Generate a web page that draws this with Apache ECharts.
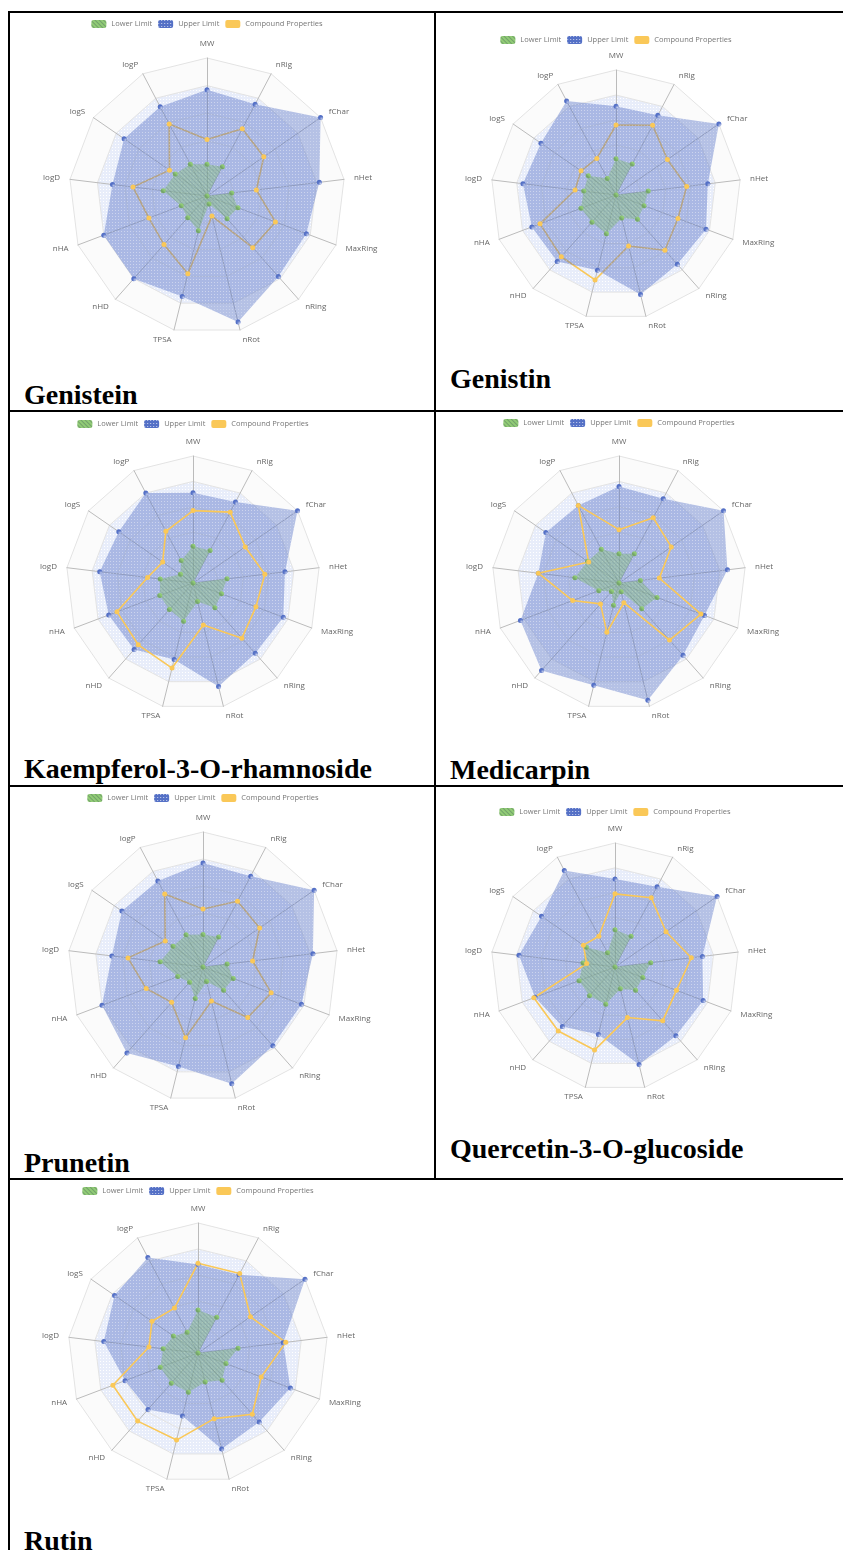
<!DOCTYPE html>
<html>
<head>
<meta charset="utf-8">
<script src="https://cdn.jsdelivr.net/npm/echarts@6/dist/echarts.min.js"></script>
<style>
  html, body { margin: 0; padding: 0; background: #fff; }
  #page { position: relative; width: 843px; height: 1550px; overflow: hidden; background: #fff; }
  .rule { position: absolute; background: #000; }
  .chart { position: absolute; width: 400px; height: 380px; }
  .name {
    position: absolute; white-space: nowrap; color: #000;
    font-family: 'Liberation Serif', serif; font-weight: bold;
    font-size: 28px; line-height: 28px;
  }
</style>
</head>
<body>
<div id="page"></div>
<script>
// Radar axes, clockwise from the top
const indicators = ['MW', 'nRig', 'fChar', 'nHet', 'MaxRing', 'nRing', 'nRot', 'TPSA', 'nHD', 'nHA', 'logD', 'logS', 'logP'];
const legendNames = ['Lower Limit', 'Upper Limit', 'Compound Properties'];
const compounds = ['Genistein', 'Genistin', 'Kaempferol-3-O-rhamnoside', 'Medicarpin', 'Prunetin', 'Quercetin-3-O-glucoside', 'Rutin'];

// Scaled physicochemical scores (0..1) in indicator order
const genisteinLower = [0.23, 0.24, 0.00, 0.18, 0.24, 0.22, 0.06, 0.26, 0.21, 0.20, 0.32, 0.28, 0.26];
const genisteinUpper = [0.77, 0.75, 1.00, 0.82, 0.77, 0.78, 0.94, 0.75, 0.80, 0.80, 0.69, 0.73, 0.73];
const genisteinProps = [0.41, 0.55, 0.50, 0.36, 0.53, 0.50, 0.15, 0.58, 0.47, 0.45, 0.54, 0.33, 0.59];

const genistinLower = [0.29, 0.28, 0.00, 0.26, 0.24, 0.26, 0.19, 0.32, 0.29, 0.30, 0.26, 0.27, 0.15];
const genistinUpper = [0.71, 0.72, 1.00, 0.74, 0.77, 0.74, 0.82, 0.62, 0.71, 0.72, 0.75, 0.73, 0.85];
const genistinProps = [0.56, 0.63, 0.50, 0.57, 0.53, 0.59, 0.42, 0.70, 0.66, 0.65, 0.33, 0.34, 0.33];

const kaempferolLower = [0.29, 0.29, 0.00, 0.27, 0.24, 0.26, 0.15, 0.31, 0.28, 0.28, 0.26, 0.12, 0.20];
const kaempferolUpper = [0.71, 0.72, 1.00, 0.73, 0.76, 0.74, 0.84, 0.62, 0.70, 0.71, 0.74, 0.71, 0.80];
const kaempferolProps = [0.57, 0.63, 0.50, 0.57, 0.53, 0.58, 0.34, 0.69, 0.65, 0.64, 0.36, 0.29, 0.46];

const medicarpinLower = [0.23, 0.26, 0.00, 0.17, 0.32, 0.27, 0.07, 0.18, 0.09, 0.17, 0.35, 0.30, 0.30];
const medicarpinUpper = [0.76, 0.75, 1.00, 0.86, 0.72, 0.76, 0.95, 0.83, 0.92, 0.83, 0.64, 0.70, 0.69];
const medicarpinProps = [0.42, 0.58, 0.50, 0.32, 0.69, 0.60, 0.16, 0.40, 0.22, 0.39, 0.64, 0.29, 0.69];

const prunetinLower = [0.24, 0.25, 0.00, 0.18, 0.24, 0.23, 0.11, 0.24, 0.15, 0.20, 0.32, 0.27, 0.27];
const prunetinUpper = [0.77, 0.76, 1.00, 0.82, 0.78, 0.78, 0.89, 0.76, 0.85, 0.80, 0.68, 0.73, 0.72];
const prunetinProps = [0.43, 0.55, 0.51, 0.37, 0.54, 0.50, 0.26, 0.54, 0.35, 0.45, 0.56, 0.34, 0.61];

const quercetinLower = [0.30, 0.28, 0.00, 0.29, 0.24, 0.25, 0.18, 0.31, 0.31, 0.31, 0.26, 0.28, 0.13];
const quercetinUpper = [0.71, 0.73, 1.00, 0.71, 0.76, 0.74, 0.81, 0.56, 0.64, 0.69, 0.78, 0.72, 0.88];
const quercetinProps = [0.59, 0.63, 0.50, 0.62, 0.53, 0.58, 0.42, 0.69, 0.69, 0.70, 0.23, 0.31, 0.28];

const rutinLower = [0.33, 0.31, 0.00, 0.31, 0.23, 0.28, 0.23, 0.31, 0.31, 0.31, 0.27, 0.23, 0.18];
const rutinUpper = [0.68, 0.68, 1.00, 0.66, 0.76, 0.71, 0.76, 0.50, 0.58, 0.60, 0.73, 0.78, 0.83];
const rutinProps = [0.69, 0.69, 0.49, 0.68, 0.52, 0.63, 0.52, 0.69, 0.70, 0.70, 0.38, 0.43, 0.39];

const lowerSets = [genisteinLower, genistinLower, kaempferolLower, medicarpinLower, prunetinLower, quercetinLower, rutinLower];
const upperSets = [genisteinUpper, genistinUpper, kaempferolUpper, medicarpinUpper, prunetinUpper, quercetinUpper, rutinUpper];
const propSets = [genisteinProps, genistinProps, kaempferolProps, medicarpinProps, prunetinProps, quercetinProps, rutinProps];

// Page layout: radar centre/radius, legend row, caption baseline, and whether
// the compound trace sits beneath the filled limit areas
const layout = [
  { cx: 207, cy: 196, r: 138, legendY: 19,   titleX: 24,  baseline: 404,  under: true },
  { cx: 616, cy: 195, r: 125, legendY: 35,   titleX: 450, baseline: 388,  under: true },
  { cx: 193, cy: 583, r: 127, legendY: 419,  titleX: 24,  baseline: 778,  under: false },
  { cx: 619, cy: 583, r: 127, legendY: 418,  titleX: 450, baseline: 779,  under: false },
  { cx: 203, cy: 967, r: 135, legendY: 793,  titleX: 24,  baseline: 1172, under: true },
  { cx: 615, cy: 967, r: 124, legendY: 807,  titleX: 450, baseline: 1158, under: false },
  { cx: 198, cy: 1353, r: 130, legendY: 1186, titleX: 24, baseline: 1550, under: false }
];

// Table rules: [left, top, width, height]
const rules = [
  [8, 11, 835, 2], [8, 410, 835, 2], [8, 785, 835, 2], [8, 1178, 835, 2],
  [8, 11, 2, 1539], [434, 11, 2, 1169]
];

// ECharts lays radar axes out counter-clockwise; keep MW on top and
// walk the rest backwards so the axes read clockwise.
const clockwise = arr => [arr[0]].concat(arr.slice(1).reverse());

const page = document.getElementById('page');
rules.forEach(([l, t, w, h]) => {
  const d = document.createElement('div');
  d.className = 'rule';
  Object.assign(d.style, { left: l + 'px', top: t + 'px', width: w + 'px', height: h + 'px' });
  page.appendChild(d);
});

// Faint dotted fill for the inner rings of the radar grid
function ringPattern() {
  const c = document.createElement('canvas');
  c.width = 3; c.height = 3;
  const g = c.getContext('2d');
  g.fillStyle = 'rgb(232,237,250)';
  g.fillRect(0, 0, 3, 3);
  g.fillStyle = '#ffffff';
  g.fillRect(0, 0, 1, 1);
  return c;
}
const ringFill = { image: ringPattern(), repeat: 'repeat' };

const lowerStyle = {
  symbol: 'circle', symbolSize: 5,
  itemStyle: {
    color: '#91cc75',
    decal: { symbol: 'rect', symbolSize: 1, dashArrayX: [1, 0], dashArrayY: [1, 2], rotation: Math.PI / 4, color: 'rgba(40,60,80,0.3)' }
  },
  lineStyle: { color: '#91cc75', width: 1, opacity: 0 },
  areaStyle: { color: '#8fc48a', opacity: 0.5 }
};
const upperStyle = {
  symbol: 'circle', symbolSize: 5,
  itemStyle: {
    color: '#5470c6',
    decal: { symbol: 'rect', symbolSize: 1, dashArrayX: [1, 2], dashArrayY: [1, 2], color: 'rgba(255,255,255,0.7)' }
  },
  lineStyle: { color: '#5470c6', width: 1, opacity: 0 },
  areaStyle: { color: '#5470c6', opacity: 0.42 }
};
const propStyle = {
  symbol: 'circle', symbolSize: 5,
  itemStyle: { color: '#fac858' },
  lineStyle: { color: '#fac858', width: 1.6 },
  areaStyle: null
};

compounds.forEach((name, k) => {
  const L = layout[k];
  const divLeft = L.cx - 200, divTop = L.cy - 190;

  const cap = document.createElement('div');
  cap.className = 'name';
  cap.textContent = name;
  cap.style.left = L.titleX + 'px';
  cap.style.top = (L.baseline - 23.5) + 'px';
  page.appendChild(cap);

  const box = document.createElement('div');
  box.className = 'chart';
  box.style.left = divLeft + 'px';
  box.style.top = divTop + 'px';
  page.appendChild(box);

  const lower = Object.assign({ name: legendNames[0], value: clockwise(lowerSets[k]) }, lowerStyle);
  const upper = Object.assign({ name: legendNames[1], value: clockwise(upperSets[k]) }, upperStyle);
  const props = Object.assign({ name: legendNames[2], value: clockwise(propSets[k]) }, propStyle);
  const items = L.under ? [props, upper, lower] : [upper, lower, props];

  const chart = echarts.init(box, null, { renderer: 'canvas' });
  chart.setOption({
    animation: false,
    color: ['#91cc75', '#5470c6', '#fac858'],
    legend: {
      data: legendNames,
      top: L.legendY - 4 - divTop,
      left: 'center',
      icon: 'roundRect',
      itemWidth: 15, itemHeight: 8, itemGap: 6,
      textStyle: { fontSize: 7.5, color: '#777', fontFamily: 'Open Sans' }
    },
    radar: {
      indicator: clockwise(indicators).map(n => ({ name: n, min: 0, max: 1 })),
      center: [200, 190],
      radius: L.r,
      startAngle: 90,
      splitNumber: 5,
      shape: 'polygon',
      nameGap: 10,
      axisName: { color: '#666', fontSize: 8, fontFamily: 'Open Sans' },
      axisLine: { lineStyle: { color: '#bbb', width: 1 } },
      splitLine: { lineStyle: { color: '#e3e3e3', width: 1 } },
      splitArea: { areaStyle: { color: [ringFill, ringFill, ringFill, ringFill, 'rgba(250,250,250,0.8)'] } }
    },
    series: [{
      type: 'radar',
      data: items
    }]
  });
});
</script>
</body>
</html>
